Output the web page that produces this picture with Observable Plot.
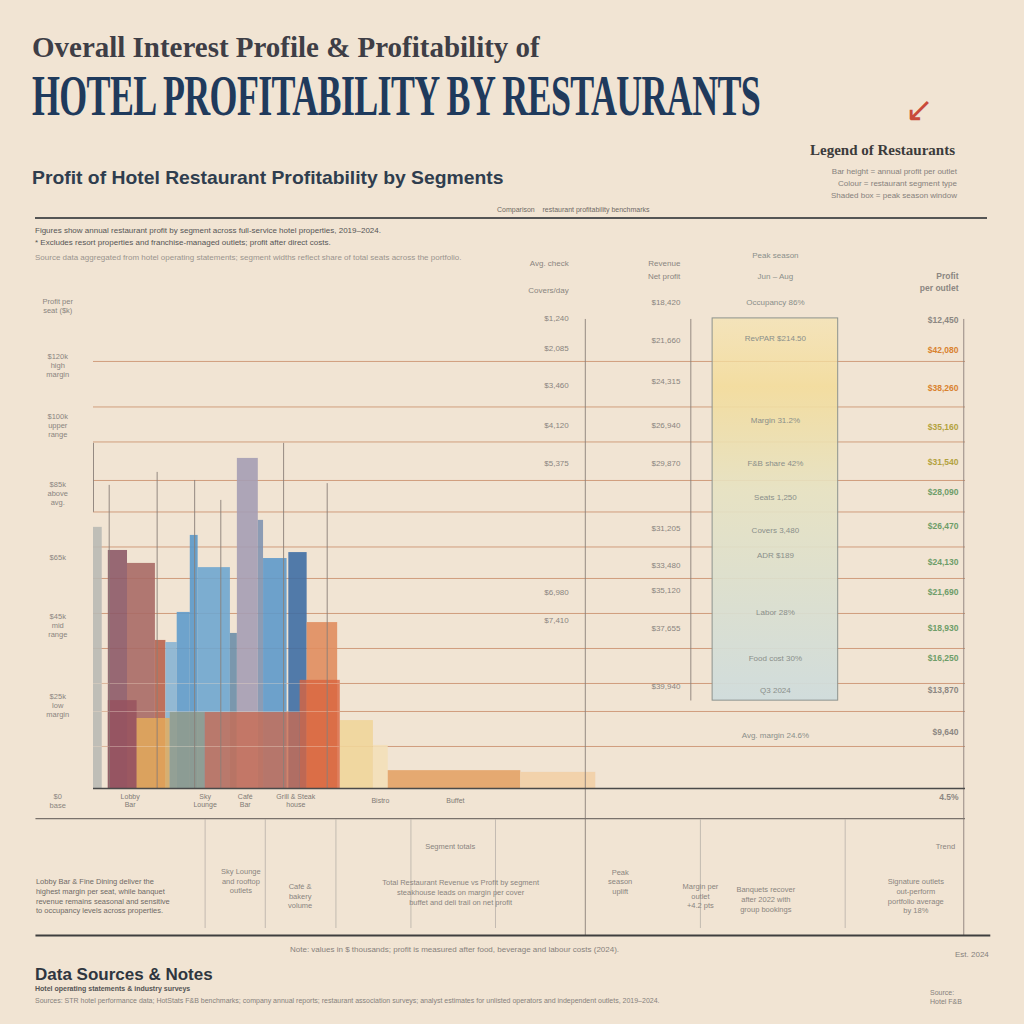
<!DOCTYPE html>
<html><head><meta charset="utf-8">
<script src="https://cdn.jsdelivr.net/npm/d3@7"></script>
<script src="https://cdn.jsdelivr.net/npm/@observablehq/plot@0.6"></script>
<style>
html,body{margin:0;padding:0;background:#f1e4d3;}
#page{position:relative;width:1024px;height:1024px;overflow:hidden;background:#f1e4d3;font-family:"Liberation Sans",Arial,sans-serif;}
.abs{position:absolute;white-space:nowrap;transform-origin:0 0;}
#t1{left:32px;top:30px;font-family:"Liberation Serif",serif;font-weight:bold;font-size:30px;line-height:34px;color:#3e3e46;}
#t2{left:32px;top:67px;font-family:"Liberation Serif","DejaVu Serif",serif;font-weight:bold;font-size:58px;line-height:58px;color:#1f3a5c;letter-spacing:-1px;}
#sub{left:32px;top:168px;font-weight:bold;font-size:19px;line-height:20px;color:#2f3d4e;}
#leg{right:69px;top:142px;font-family:"Liberation Serif",serif;font-weight:bold;font-size:15px;line-height:16px;color:#3b3b3b;}
#legArrow{left:905px;top:92px;font-size:34px;line-height:34px;color:#c94a3a;}
.small{font-size:8px;line-height:12px;color:#86817c;}
#rule1{left:35px;top:217px;width:952px;height:2px;background:#555;}
#rule1cap{left:497px;top:206px;font-size:7px;color:#6f6a66;}
#svgwrap{position:absolute;left:0;top:240px;}
#footT{left:35px;top:966px;font-weight:bold;font-size:17px;line-height:18px;color:#2f3640;}
</style></head><body><div id="page">
<div class="abs" id="t1">Overall Interest Profile &amp; Profitability of</div>
<div class="abs" id="t2">HOTEL PROFITABILITY BY RESTAURANTS</div>
<div class="abs" id="sub">Profit of Hotel Restaurant Profitability by Segments</div>
<div class="abs" id="legArrow">↙</div>
<div class="abs" id="leg">Legend of Restaurants</div>
<div class="abs small" style="right:67px;top:166px;text-align:right;">Bar height = annual profit per outlet<br>Colour = restaurant segment type<br>Shaded box = peak season window</div>
<div class="abs" id="rule1cap">Comparison &nbsp;&nbsp; restaurant profitability benchmarks</div>
<div class="abs" id="rule1"></div>
<div class="abs small" style="left:35px;top:225px;color:#555;">Figures show annual restaurant profit by segment across full-service hotel properties, 2019–2024.</div>
<div class="abs small" style="left:35px;top:237px;color:#555;">* Excludes resort properties and franchise-managed outlets; profit after direct costs.</div>
<div class="abs small" style="left:35px;top:252px;color:#9a948e;">Source data aggregated from hotel operating statements; segment widths reflect share of total seats across the portfolio.</div>
<div id="svgwrap"></div>
<div class="abs small" style="left:290px;top:944px;">Note: values in $ thousands; profit is measured after food, beverage and labour costs (2024).</div>
<div class="abs small" style="left:955px;top:949px;">Est. 2024</div>
<div class="abs" id="footT">Data Sources &amp; Notes</div>
<div class="abs small" style="left:35px;top:983px;font-weight:bold;color:#555;font-size:7px;">Hotel operating statements &amp; industry surveys</div>
<div class="abs small" style="left:35px;top:995px;font-size:7px;">Sources: STR hotel performance data; HotStats F&amp;B benchmarks; company annual reports; restaurant association surveys; analyst estimates for unlisted operators and independent outlets, 2019–2024.</div>
<div class="abs small" style="left:930px;top:988px;font-size:7px;line-height:9px;">Source:<br>Hotel F&amp;B</div>
</div>
<script>
// ---- data ----
const tallSegments = ["Room Service","Lobby Bar","Fine Dining","Bistro","Café","Sky Lounge","Rooftop Bar","Seafood Grill","Pool Bar","Signature Steakhouse","Wine Cellar","Sushi Bar","Teppanyaki","Brasserie","Bakery","Deli","Buffet","Banquets"];
const tallStart = [0,1.7,3.9,7.1,8.3,9.6,11.1,12.0,15.7,16.5,18.9,19.5,22.4,24.5,28.3,32.1,33.8,49.0];
const tallEnd   = [1.0,3.9,7.1,8.3,9.6,11.1,12.0,15.7,16.5,18.9,19.5,22.2,24.5,28.0,32.1,33.8,49.0,57.6];
const tallProfit= [74.6,68,64.3,42.3,41.7,50.3,72.3,63.1,44.3,94.3,76.6,65.7,67.4,47.4,19.4,12.3,5.1,4.6];

const bandSegments = ["Staff Costs","Food Costs","Beverage Costs","Overheads","Utilities"];
const bandStart = [1.7,5.0,8.8,12.8,23.7];
const bandEnd   = [5.0,8.8,12.8,23.7,28.3];
const bandProfit= [25.1,20,21.7,21.7,30.9];

const gridValues = [12,22,30,40,50,60,69,79,88,99,109,122];

const peakRange = [71.0,85.4];
const peakProfit = [25.1,134.3];

const refX      = [0,1.8,7.3,11.6,14.6,21.8,26.8,56.4,68.5,99.8];
const refTop    = [98.6,86.6,90.3,88,82.3,98.6,87.1,134,134,134];
const refBottom = [78.9,0,0,0,0,0,0,-42,25,-42];

const leftTicks = [138,120.9,103.7,84.3,66,46.6,23.7,-3.4];
const leftLabels = ["Profit per\nseat ($k)","$120k\nhigh\nmargin","$100k\nupper\nrange","$85k\nabove\navg.","$65k","$45k\nmid\nrange","$25k\nlow\nmargin","$0\nbase"];

const col1Y = [150,142.3,134.3,125.7,115.1,103.7,92.9,56,48];
const col1T = ["Avg. check","Covers/day","$1,240","$2,085","$3,460","$4,120","$5,375","$6,980","$7,410"];
const col2Y = [150,146.3,138.9,128,116.3,103.7,92.9,74.3,63.7,56.6,45.7,29.1];
const col2T = ["Revenue","Net profit","$18,420","$21,660","$24,315","$26,940","$29,870","$31,205","$33,480","$35,120","$37,655","$39,940"];
const col3Y = [152.4,146.3,138.9,128.6,105.1,92.9,83.1,73.7,66.6,50.3,37.1,28,15.1];
const col3T = ["Peak season","Jun – Aug","Occupancy 86%","RevPAR $214.50","Margin 31.2%","F&B share 42%","Seats 1,250","Covers 3,480","ADR $189","Labor 28%","Food cost 30%","Q3 2024","Avg. margin 24.6%"];
const col4Y = [146.3,142.9,133.7,125.1,114.3,103.1,93.1,84.6,74.9,64.6,56,45.7,37.1,28,16,-2.6];
const col4T = ["Profit","per outlet","$12,450","$42,080","$38,260","$35,160","$31,540","$28,090","$26,470","$24,130","$21,690","$18,930","$16,250","$13,870","$9,640","4.5%"];
const col4Tier = ["base","base","base","top","top","upper","upper","good","good","good","good","good","good","base","base","base"];

const xLabelPos = [4.2,12.8,17.4,23.2,32.9,41.5];
const xLabels = ["Lobby\nBar","Sky\nLounge","Café\nBar","Grill & Steak\nhouse","Bistro","Buffet"];

const leadNoteX = [-6.6];
const leadNoteY = [-30.6];
const leadNoteT = ["Lobby Bar & Fine Dining deliver the\nhighest margin per seat, while banquet\nrevenue remains seasonal and sensitive\nto occupancy levels across properties."];

const noteX = [16.9,23.7,42.1,60.4,69.6,77.1,94.3,40.9,97.7];
const noteY = [-26.3,-30.6,-29.6,-26.5,-30.6,-31.5,-30.6,-16.3,-16.3];
const noteT = [
 "Sky Lounge\nand rooftop\noutlets",
 "Café &\nbakery\nvolume",
 "Total Restaurant Revenue vs Profit by segment\nsteakhouse leads on margin per cover\nbuffet and deli trail on net profit",
 "Peak\nseason\nuplift",
 "Margin per\noutlet\n+4.2 pts",
 "Banquets recover\nafter 2022 with\ngroup bookings",
 "Signature outlets\nout-perform\nportfolio average\nby 18%",
 "Segment totals",
 "Trend"];

const lowX = [12.8,19.7,27.8,36.4,46.1,69.6,86.2];

// ---- styles ----
const tallColors = ["#b9b9b4","#8d5a68","#a96a66","#b9644f","#88b4d3","#5f9bcb","#5b98c9","#6fa6cf","#6d8ea8","#a59db4","#8194b0","#5e99ca","#3f6ea4","#e08d5f","#f0d59a","#f3dfb8","#e3a266","#f2cfa6"];
const bandColors = ["#96505e","#e6ad5a","#939a86","#c86c52","#d9643f"];
const tierColor = {base:"#8c8782",top:"#d9822f",upper:"#b3a23e",good:"#6e9d68"};

const tall = tallSegments.map((s,i)=>({segment:s,x1:tallStart[i],x2:tallEnd[i],v:tallProfit[i]}));
const band = bandSegments.map((s,i)=>({segment:s,x1:bandStart[i],x2:bandEnd[i],v:bandProfit[i]}));
const peak = [{x1:peakRange[0],x2:peakRange[1],y1:peakProfit[0],y2:peakProfit[1]}];
const refs = refX.map((x,i)=>({x,y1:refBottom[i],y2:refTop[i]}));
const left = leftTicks.map((y,i)=>({y,t:leftLabels[i]}));
const c1 = col1Y.map((y,i)=>({y,t:col1T[i]}));
const c2 = col2Y.map((y,i)=>({y,t:col2T[i]}));
const c3 = col3Y.map((y,i)=>({y,t:col3T[i]}));
const c4 = col4Y.map((y,i)=>({y,t:col4T[i],tier:col4Tier[i]}));
const xl = xLabelPos.map((x,i)=>({x,t:xLabels[i]}));
const notes = noteT.map((t,i)=>({x:noteX[i],y:noteY[i],t}));
const leadNotes = leadNoteT.map((t,i)=>({x:leadNoteX[i],y:leadNoteY[i],t}));

const allSegments = tallSegments.concat(bandSegments);
const allColors = tallColors.concat(bandColors);

const chart = Plot.plot({
  width: 1024, height: 700,
  marginLeft: 93, marginRight: 59, marginTop: 10, marginBottom: 152,
  x: {domain: [0,100], axis: null},
  y: {domain: [0,153.7], axis: null},
  color: {domain: allSegments, range: allColors},
  style: {background: "transparent", fontFamily: "Liberation Sans, sans-serif", overflow: "visible"},
  marks: [
    Plot.ruleY(gridValues, {x1: 0, x2: 100, stroke: "#c88c68", strokeOpacity: 0.8}),
    Plot.rect(peak, {x1:"x1", x2:"x2", y1:"y1", y2:"y2", fill:"url(#peakGrad)", stroke:"#8d938e", strokeWidth:1}),
    Plot.rect(tall, {x1:"x1", x2:"x2", y1:0, y2:"v", fill:"segment", fillOpacity:0.9}),
    Plot.rect(band, {x1:"x1", x2:"x2", y1:0, y2:"v", fill:"segment", fillOpacity:0.8}),
    Plot.ruleY(gridValues.slice(0,3), {x1: 0, x2: 28.3, stroke: "#f4e7d6", strokeOpacity: 0.35}),
    Plot.ruleX(refs, {x:"x", y1:"y1", y2:"y2", stroke:"#8a7f78", strokeWidth:0.9}),
    Plot.ruleX(lowX, {y1:-9, y2:-40, stroke:"#b8b0a8", strokeWidth:0.8}),
    Plot.ruleY([0], {x1:0, x2:100, stroke:"#4a4a4a", strokeWidth:1.6}),
    Plot.ruleY([-8.6], {x1:-6.6, x2:100, stroke:"#7a726c", strokeWidth:1.2}),
    Plot.ruleY([-42], {x1:-6.6, x2:102.9, stroke:"#3e3e3e", strokeWidth:2}),
    Plot.text(left, {x:-4.1, y:"y", text:"t", fontSize:7.5, lineHeight:1.2, fill:"#8a8580"}),
    Plot.text(c1, {x:54.5, y:"y", text:"t", textAnchor:"end", fontSize:8, fill:"#8a8580"}),
    Plot.text(c2, {x:67.3, y:"y", text:"t", textAnchor:"end", fontSize:8, fill:"#8a8580"}),
    Plot.text(c3, {x:78.2, y:"y", text:"t", fontSize:8, fill:"#8a8f8a"}),
    Plot.text(c4, {x:99.2, y:"y", text:"t", textAnchor:"end", fontSize:8.5, fontWeight:"bold", fill:d=>tierColor[d.tier]}),
    Plot.text(xl, {x:"x", y:-3.4, text:"t", fontSize:7, lineHeight:1.1, fill:"#7f7a75"}),
    Plot.text(leadNotes, {x:"x", y:"y", text:"t", textAnchor:"start", fontSize:7.5, lineHeight:1.3, fill:"#6f6a66"}),
    Plot.text(notes, {x:"x", y:"y", text:"t", fontSize:7.5, lineHeight:1.3, fill:"#8a8580"})
  ]
});
const svg = chart.tagName.toLowerCase() === "svg" ? chart : chart.querySelector("svg");
const defs = d3.create("svg:defs");
const g = defs.append("linearGradient").attr("id","peakGrad").attr("x1",0).attr("y1",0).attr("x2",0).attr("y2",1);
[["0%","#f6e2a6",0.55],["18%","#f3dc9b",0.9],["45%","#e6e2c2",0.9],["100%","#cfdcdc",0.95]].forEach(([o,c,op])=>g.append("stop").attr("offset",o).attr("stop-color",c).attr("stop-opacity",op));
svg.insertBefore(defs.node(), svg.firstChild);
document.getElementById("svgwrap").appendChild(chart);

function fit(id, w){ const el=document.getElementById(id); const s=w/el.scrollWidth; el.style.transform=`scaleX(${s})`; }
fit("t1", 508); fit("t2", 728); fit("sub", 471);
</script>
</body></html>
